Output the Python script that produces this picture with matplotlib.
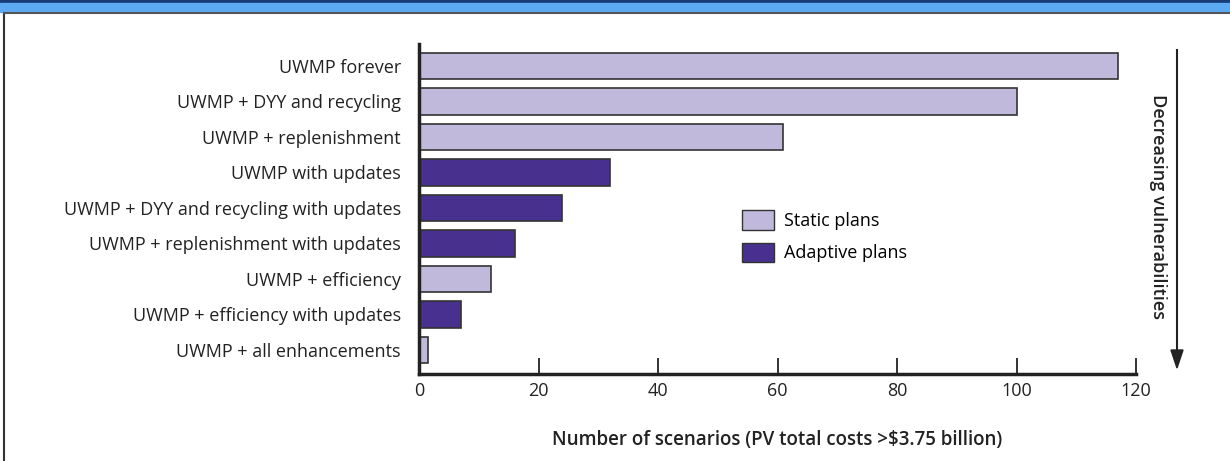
import matplotlib.pyplot as plt
from matplotlib.patches import Rectangle, Patch

# les donnees
plans = ["UWMP forever",
         "UWMP + DYY and recycling",
         "UWMP + replenishment",
         "UWMP with updates",
         "UWMP + DYY and recycling with updates",
         "UWMP + replenishment with updates",
         "UWMP + efficiency",
         "UWMP + efficiency with updates",
         "UWMP + all enhancements"]
scenarios = [117, 100, 61, 32, 24, 16, 12, 7, 1.5]
adaptive = [False, False, False, True, True, True, False, True, False]
xticks = [0, 20, 40, 60, 80, 100, 120]

STATIC = "#c0b9dc"
ADAPT = "#48308f"

plt.rcParams['font.family'] = ['Open Sans', 'DejaVu Sans']

fig = plt.figure(figsize=(12.3, 4.61), dpi=100)

# bandeau bleu en haut et cadre
fig.patches.append(Rectangle((0, 1 - 3 / 461), 1, 3 / 461, transform=fig.transFigure,
                             color="#173a78", zorder=0))
fig.patches.append(Rectangle((0, 1 - 12 / 461), 1, 9 / 461, transform=fig.transFigure,
                             color="#5eaaf2", zorder=0))
fig.add_artist(plt.Line2D([4 / 1230, 4 / 1230], [0, 1 - 13 / 461], transform=fig.transFigure,
                          color="#333333", lw=1.5))
fig.add_artist(plt.Line2D([4 / 1230, 1], [1 - 13 / 461, 1 - 13 / 461], transform=fig.transFigure,
                          color="#555555", lw=1.5))

ax = fig.add_axes([419 / 1230, 1 - 374 / 461, 717 / 1230, 330 / 461])

y = list(range(len(plans)))
colors = [ADAPT if a else STATIC for a in adaptive]
ax.barh(y, scenarios, height=0.75, color=colors, edgecolor="#333333", linewidth=1.2, zorder=2)

ax.set_xlim(0, 120)
ax.set_ylim(8.68, -0.62)
ax.set_yticks(y)
ax.set_yticklabels(plans, fontsize=13, color="#222222")
ax.tick_params(axis='y', length=0, pad=13)
ax.set_xticks(xticks)
ax.set_xticklabels([str(t) for t in xticks], fontsize=13, color="#222222")
ax.tick_params(axis='x', direction='in', length=11.5, width=1.3, pad=6, color="#222222")

for s in ['top', 'right']:
    ax.spines[s].set_visible(False)
for s in ['left', 'bottom']:
    ax.spines[s].set_linewidth(2.5)
    ax.spines[s].set_color("#222222")

ax.set_xlabel(r"Number of scenarios (PV total costs >\$3.75 billion)", fontsize=13.5,
              fontweight='semibold', color="#222222", labelpad=21)

# legende
handles = [Patch(facecolor=STATIC, edgecolor="#333333", label="Static plans"),
           Patch(facecolor=ADAPT, edgecolor="#333333", label="Adaptive plans")]
fig.legend(handles=handles, loc='upper left', bbox_to_anchor=(742 / 1230, 1 - 210 / 461),
           frameon=False, fontsize=13, handlelength=1.75, handleheight=1.3,
           handletextpad=0.55, labelspacing=0.7, borderpad=0, borderaxespad=0)

# fleche a droite
fig.add_artist(plt.Line2D([1177 / 1230, 1177 / 1230], [1 - 50 / 461, 1 - 356 / 461],
                          transform=fig.transFigure, color="#222222", lw=1.5))
fig.patches.append(plt.Polygon([[1171 / 1230, 1 - 350 / 461], [1183 / 1230, 1 - 350 / 461],
                                [1177 / 1230, 1 - 368 / 461]], closed=True,
                               transform=fig.transFigure, color="#222222"))
fig.text(1158 / 1230, 1 - 206 / 461, "Decreasing vulnerabilities", rotation=-90,
         ha='center', va='center', fontsize=13, fontweight='semibold', color="#222222")

fig.savefig("out.png", dpi=100)
